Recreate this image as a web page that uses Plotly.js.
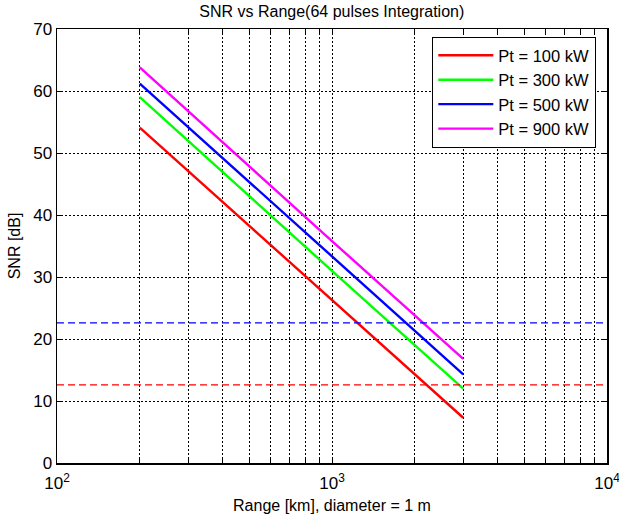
<!DOCTYPE html>
<html>
<head>
<meta charset="utf-8">
<script src="https://cdn.plot.ly/plotly-3.0.1.min.js"></script>
<style>html,body{margin:0;padding:0;background:#fff}#chart{width:619px;height:520px}</style>
</head>
<body>
<div id="chart"></div>
<script>
// Range samples [km]
const rangeKm = [200, 300, 500, 700, 1000, 1500, 2000, 3000];
// SNR [dB]
const snr100 = [54.1, 47.1, 38.2, 32.4, 26.2, 19.2, 14.3, 7.3];
const snr300 = [59.0, 51.9, 43.1, 37.2, 31.0, 24.0, 19.0, 12.0];
const snr500 = [61.2, 54.2, 45.3, 39.5, 33.3, 26.3, 21.3, 14.3];
const snr900 = [63.8, 56.7, 47.9, 42.0, 35.8, 28.8, 23.8, 16.8];
const seriesNames = ["Pt = 100 kW", "Pt = 300 kW", "Pt = 500 kW", "Pt = 900 kW"];
const seriesColors = ["#ff0000", "#00ff00", "#0000ff", "#ff00ff"];
// Horizontal threshold lines
const thrX = [100, 10000];
const thrBlue = 22.6;
const thrRed = 12.6;
// Axis ticks
const xTickVals = [100,200,300,400,500,600,700,800,900,1000,2000,3000,4000,5000,6000,7000,8000,9000,10000];
const xTickText = xTickVals.map(v => v===100 ? "10<sup>2</sup>" : v===1000 ? "10<sup>3</sup>" : v===10000 ? "10<sup>4</sup>" : "");
const yTickVals = [0,10,20,30,40,50,60,70];

const font = "Liberation Sans, Arial, sans-serif";
const allSeries = [snr100, snr300, snr500, snr900];
const traces = allSeries.map((s, i) => ({
  x: rangeKm, y: s, type: "scatter", mode: "lines", name: seriesNames[i],
  line: {color: seriesColors[i], width: 2.4}
}));
traces.push({x: thrX, y: [thrBlue, thrBlue], type: "scatter", mode: "lines", showlegend: false,
  line: {color: "#0000ff", width: 1.2, dash: "7px,4px"}, hoverinfo: "skip"});
traces.push({x: thrX, y: [thrRed, thrRed], type: "scatter", mode: "lines", showlegend: false,
  line: {color: "#ff0000", width: 1.2, dash: "7px,4px"}, hoverinfo: "skip"});

const layout = {
  width: 619, height: 520,
  margin: {l: 57, r: 12, t: 29, b: 57},
  paper_bgcolor: "#fff", plot_bgcolor: "#fff",
  font: {family: font, size: 17, color: "#000"},
  title: {text: "SNR vs Range(64 pulses Integration)", font: {family: font, size: 16, color: "#000"}, x: 0.536, xanchor: "center", y: 0.988, yanchor: "top"},
  xaxis: {
    type: "log", range: [2, 4], tickmode: "array", tickvals: xTickVals, ticktext: xTickText,
    ticks: "inside", ticklen: 5, tickcolor: "#000", showline: true, linecolor: "#000", linewidth: 1.5, mirror: "ticks",
    showgrid: true, gridcolor: "#000", gridwidth: 1, griddash: "2px,2px", zeroline: false,
    tickfont: {size: 17, family: font}, ticklabelstandoff: 4, ticklabeloverflow: "allow",
    title: {text: "Range [km], diameter = 1 m", font: {size: 16, family: font}, standoff: 8}
  },
  yaxis: {
    range: [0, 70], tickmode: "array", tickvals: yTickVals,
    ticks: "inside", ticklen: 5, tickcolor: "#000", showline: true, linecolor: "#000", linewidth: 1.5, mirror: "ticks",
    showgrid: true, gridcolor: "#000", gridwidth: 1, griddash: "2px,2px", zeroline: false,
    tickfont: {size: 17, family: font},
    title: {text: "SNR [dB]", font: {size: 16, family: font}, standoff: 8}
  },
  legend: {
    x: 0.682, y: 0.982, xanchor: "left", yanchor: "top",
    bgcolor: "#fff", bordercolor: "#000", borderwidth: 1.2,
    font: {size: 16.5, family: font}, itemwidth: 55, tracegroupgap: 0
  },
  showlegend: true
};
Plotly.newPlot("chart", traces, layout, {displayModeBar: false, staticPlot: true});
</script>
</body>
</html>
